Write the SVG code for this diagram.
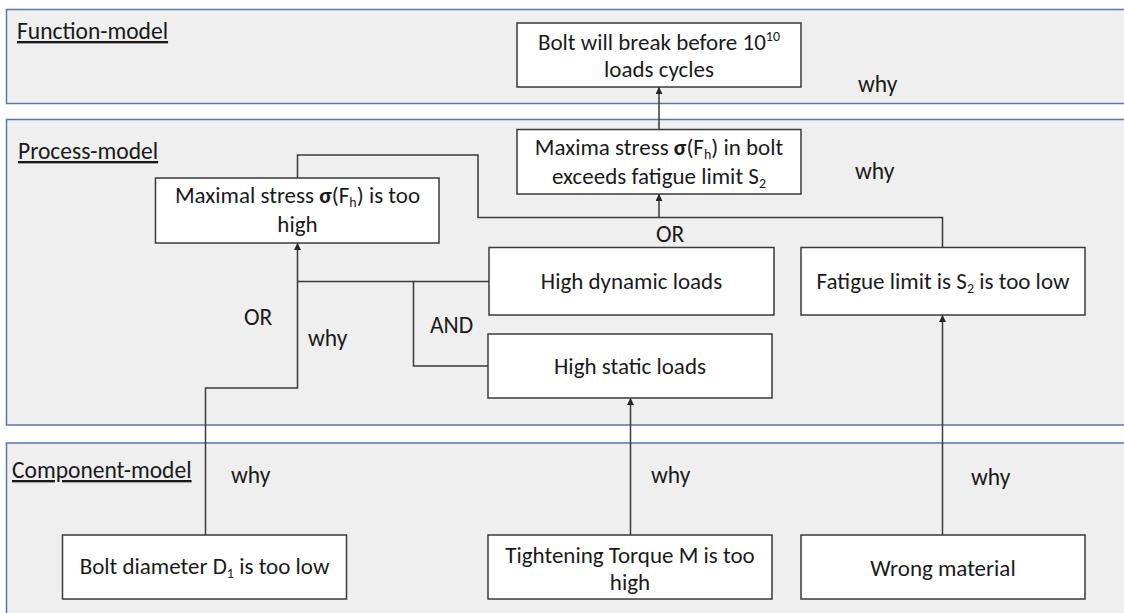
<svg xmlns="http://www.w3.org/2000/svg" width="1124" height="613" viewBox="0 0 1124 613">
  <defs>
    <marker id="arrow" viewBox="0 0 10 10" refX="10" refY="5" markerWidth="7" markerHeight="7" markerUnits="userSpaceOnUse" orient="auto">
      <path d="M0,0 L10,5 L0,10 Z" fill="#262626"/>
    </marker>
    <style>
      .panel { fill: #efefef; stroke: #5a76ad; stroke-width: 1.5; }
      .box { fill: #ffffff; stroke: #3a3a3a; stroke-width: 1.5; }
      .wire { fill: none; stroke: #3a3a3a; stroke-width: 1.5; }
      .arr { marker-end: url(#arrow); }
      text { font-family: "Carlito", "Liberation Sans", Arial, sans-serif; fill: #1a1a1a; }
      .t { font-size: 23px; text-anchor: middle; }
      .lbl { font-size: 23.5px; text-decoration: underline; }
      .note { font-size: 23.5px; }
      .sig { font-weight: bold; }
      .sub { font-size: 14px; }
    </style>
  </defs>

  <!-- model layers -->
  <g id="layers">
    <rect class="panel" x="6.5" y="9.5" width="1130" height="94"/>
    <rect class="panel" x="6.5" y="119.5" width="1130" height="305.5"/>
    <rect class="panel" x="6.5" y="443" width="1130" height="200"/>
    <text class="lbl" x="17" y="39">Function-model</text>
    <text class="lbl" x="18" y="159">Process-model</text>
    <text class="lbl" x="12" y="478">Component-model</text>
  </g>

  <!-- connectors -->
  <g id="connectors">
    <path class="wire arr" d="M659,129.5 V87"/>
    <path class="wire" d="M297.5,178 V155 H478 V217.5 H942.5 V247.5"/>
    <path class="wire arr" d="M659,217.5 V194"/>
    <path class="wire arr" d="M205.5,535 V388 H297.5 V243"/>
    <path class="wire" d="M489,281.5 H297.5"/>
    <path class="wire" d="M413.5,281.5 V366 H488"/>
    <path class="wire arr" d="M630.5,535 V398"/>
    <path class="wire arr" d="M942.5,535 V315"/>
    <text class="note" x="858" y="92">why</text>
    <text class="note" x="855" y="179">why</text>
    <text class="note" x="656" y="242">OR</text>
    <text class="note" x="244" y="325">OR</text>
    <text class="note" x="308" y="346">why</text>
    <text class="note" x="430" y="333">AND</text>
    <text class="note" x="231" y="483">why</text>
    <text class="note" x="651" y="483">why</text>
    <text class="note" x="971" y="485">why</text>
  </g>

  <!-- function model -->
  <g id="n-break">
    <rect class="box" x="517" y="23" width="284" height="64"/>
    <text class="t" x="659" y="50">Bolt will break before 10<tspan class="sub" dy="-9">10</tspan></text>
    <text class="t" x="659" y="77">loads cycles</text>
  </g>

  <!-- process model -->
  <g id="n-exceeds">
    <rect class="box" x="517" y="129.5" width="284" height="64.5"/>
    <text class="t" x="659" y="155">Maxima stress <tspan class="sig">σ</tspan>(F<tspan class="sub" dy="4">h</tspan><tspan dy="-4">) in bolt</tspan></text>
    <text class="t" x="659" y="184">exceeds fatigue limit S<tspan class="sub" dy="4">2</tspan></text>
  </g>
  <g id="n-maxstress">
    <rect class="box" x="155.5" y="178" width="283.5" height="65"/>
    <text class="t" x="297.5" y="203">Maximal stress <tspan class="sig">σ</tspan>(F<tspan class="sub" dy="4">h</tspan><tspan dy="-4">) is too</tspan></text>
    <text class="t" x="297.5" y="232">high</text>
  </g>
  <g id="n-dynamic">
    <rect class="box" x="489" y="247.5" width="285" height="67.5"/>
    <text class="t" x="631.5" y="289">High dynamic loads</text>
  </g>
  <g id="n-static">
    <rect class="box" x="488" y="334" width="284" height="64"/>
    <text class="t" x="630" y="374">High static loads</text>
  </g>
  <g id="n-fatigue">
    <rect class="box" x="801" y="247.5" width="284" height="67.5"/>
    <text class="t" x="943" y="289">Fatigue limit is S<tspan class="sub" dy="4">2</tspan><tspan dy="-4"> is too low</tspan></text>
  </g>

  <!-- component model -->
  <g id="n-diameter">
    <rect class="box" x="62.5" y="535" width="284" height="64"/>
    <text class="t" x="204.5" y="574">Bolt diameter D<tspan class="sub" dy="4">1</tspan><tspan dy="-4"> is too low</tspan></text>
  </g>
  <g id="n-torque">
    <rect class="box" x="488" y="535" width="284" height="64"/>
    <text class="t" x="630" y="563">Tightening Torque M is too</text>
    <text class="t" x="630" y="590">high</text>
  </g>
  <g id="n-material">
    <rect class="box" x="801" y="535" width="284" height="64"/>
    <text class="t" x="943" y="576">Wrong material</text>
  </g>
</svg>
